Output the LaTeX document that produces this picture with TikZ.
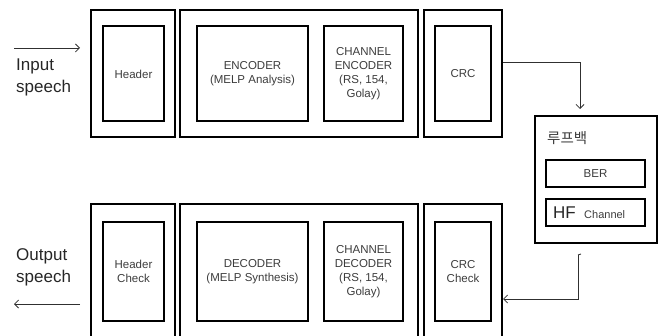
\documentclass[tikz,border=0pt]{standalone}
\usepackage{fontspec}
\setmainfont{Liberation Sans}
\newfontfamily\kor{Noto Sans CJK KR}
\usetikzlibrary{arrows.meta}
\definecolor{txt}{RGB}{60,60,60}
\begin{document}
\begin{tikzpicture}[x=1pt,y=-1pt,
  outerbox/.style={draw=black,line width=2pt,minimum width=#1,minimum height=127pt,inner sep=0pt},
  innerbox/.style={draw=black,line width=2pt,minimum width=#1,minimum height=95pt,inner sep=0pt,
     text=txt,font=\fontsize{11.5}{14}\selectfont,align=center},
  chanbox/.style={draw=black,line width=2pt,minimum width=99pt,minimum height=27pt,inner sep=0pt,text=txt},
  conn/.style={draw=txt!80!black,line width=0.8pt,-{Straight Barb[length=4pt,width=8pt]}},
  sidetext/.style={font=\fontsize{17}{22}\selectfont,align=left,text=black!85,inner sep=0pt,anchor=north west}]
\useasboundingbox (0,0) rectangle (663,336);
\clip (0,0) rectangle (663,336);
% top row
\node[outerbox=84pt] (o1) at (133,73.5) {};
\node[outerbox=238pt] (o2) at (299,73.5) {};
\node[outerbox=78pt] (o3) at (463,73.5) {};
\node[innerbox=61pt] (hdr) at (133.5,74) {Header};
\node[innerbox=111pt] (enc) at (252.5,74) {ENCODER\\(MELP Analysis)};
\node[innerbox=79pt] (cenc) at (363.5,74) {CHANNEL\\ENCODER\\(RS, 154,\\Golay)};
\node[innerbox=56pt] (crc) at (463,74) {CRC};
% bottom row
\node[outerbox=84pt,minimum height=140pt] (p1) at (133,274) {};
\node[outerbox=238pt,minimum height=140pt] (p2) at (299,274) {};
\node[outerbox=78pt,minimum height=140pt] (p3) at (463,274) {};
\node[innerbox=61pt,minimum height=99pt] (hch) at (133.5,271.5) {Header\\Check};
\node[innerbox=111pt,minimum height=99pt] (dec) at (252.5,271.5) {DECODER\\(MELP Synthesis)};
\node[innerbox=79pt,minimum height=99pt] (cdec) at (363.5,271.5) {CHANNEL\\DECODER\\(RS, 154,\\Golay)};
\node[innerbox=56pt,minimum height=99pt] (crcc) at (463,271.5) {CRC\\Check};
% loopback
\node[draw=black,line width=2pt,minimum width=122pt,minimum height=127pt,inner sep=0pt] (loop) at (596,179.5) {};
\node[anchor=west,inner sep=0pt,text=txt,font=\kor\fontsize{14.5}{16}\selectfont] (lbl) at (547,138) {루프백};
\node[chanbox,font=\fontsize{11.5}{14}\selectfont] (ber) at (595.5,173.5) {BER};
\node[chanbox] (hf) at (595.5,213) {};
\node[anchor=base west,inner sep=0pt,text=black!85,font=\fontsize{17}{20}\selectfont] (hft) at (553,219) {HF};
\node[anchor=base west,inner sep=0pt,text=txt,font=\fontsize{11}{13}\selectfont] (cht) at (584,219) {Channel};
% side texts
\node[sidetext] (inp) at (16,59) {Input\\speech};
\node[sidetext] (outp) at (16,248) {Output\\speech};
\coordinate (ia) at (14,48);
\coordinate (ib) at (80,48);
\coordinate (oa) at (80,304);
\coordinate (ob) at (14,304);
\draw[conn] (ia) -- (ib);
\draw[conn] (oa) -- (ob);
% connectors
\coordinate (c1) at (580,109);
\draw[conn] (o3.east |- 0,62) -| (c1);
\coordinate (c2) at (578,255);
\draw[txt!80!black,line width=0.8pt] (c2) -- ++(3,-1);
\draw[conn] (c2) |- (p3.east |- 0,299);
\end{tikzpicture}
\end{document}
